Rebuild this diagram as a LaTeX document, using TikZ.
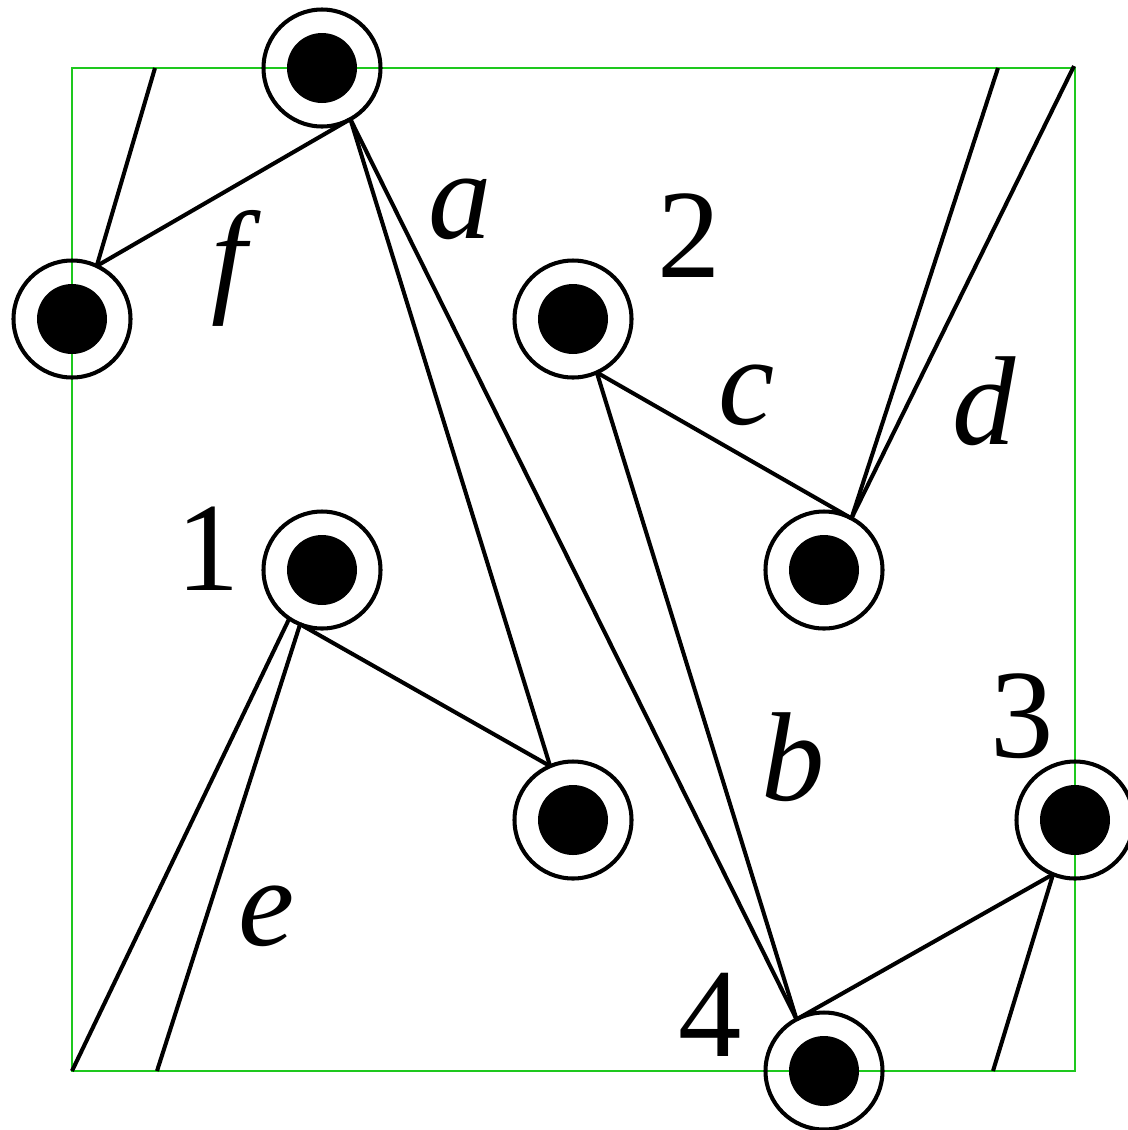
\documentclass[tikz,border=0pt]{standalone}
\usepackage{fontspec}
\setmainfont{Liberation Serif}
\definecolor{frame}{RGB}{30,200,30}
\begin{document}
\begin{tikzpicture}[x=0.1mm,y=-0.1mm,
  ring/.style={circle, draw, line width=1.15pt, minimum size=11.7mm,
    inner sep=0pt, outer sep=0pt,
    path picture={\fill (path picture bounding box.center) circle (3.5mm);}},
  edge/.style={line width=1.15pt},
  lbl/.style={font=\fontsize{36}{40}\selectfont, inner sep=0pt}]
\useasboundingbox (0,0) rectangle (1128,1130);

% fundamental domain
\draw[frame, line width=0.6pt] (72,68) rectangle (1075,1071);

% vertices
\node[ring] (T) at (322,68) {};
\node[ring] (L) at (72,319) {};
\node[ring] (N2) at (573,319) {};
\node[ring] (R) at (824,570) {};
\node[ring] (N1) at (322,570) {};
\node[ring] (M) at (573,820) {};
\node[ring] (N3) at (1075,820) {};
\node[ring] (N4) at (824,1071) {};

% points where edges leave the domain
\coordinate (eTop) at (155,68);
\coordinate (eBot) at (157,1071);
\coordinate (dTop) at (1074,66);
\coordinate (dBot) at (72,1071);
\coordinate (gTop) at (998,68);
\coordinate (gBot) at (993,1071);

% edges
\draw[edge] (T.-61) -- (L.65);
\draw[edge] (eTop) -- (L.65);
\draw[edge] (T.-61) -- (M.113);
\draw[edge] (T.-61) -- (N4.118);
\draw[edge] (N2.-66) -- (R.62);
\draw[edge] (N2.-66) -- (N4.118);
\draw[edge] (R.62) -- (gTop);
\draw[edge] (R.62) -- (dTop);
\draw[edge] (dBot) -- (N1.-124);
\draw[edge] (eBot) -- (N1.-112);
\draw[edge] (N1.-112) -- (M.113);
\draw[edge] (N3.-112) -- (N4.118);
\draw[edge] (N3.-112) -- (gBot);

% labels
\node[lbl] (la) at (460,209) {\textit{a}};
\node[lbl] (lf) at (236,268) {\textit{f}};
\node[lbl] (l2) at (689,236) {2};
\node[lbl] (lc) at (747,395) {\textit{c}};
\node[lbl] (ld) at (984,401) {\textit{d}};
\node[lbl] (l1) at (208,549) {1};
\node[lbl] (le) at (267,916) {\textit{e}};
\node[lbl] (lb) at (793,757) {\textit{b}};
\node[lbl] (l3) at (1022,716) {3};
\node[lbl] (l4) at (710,1015) {4};
\end{tikzpicture}
\end{document}
